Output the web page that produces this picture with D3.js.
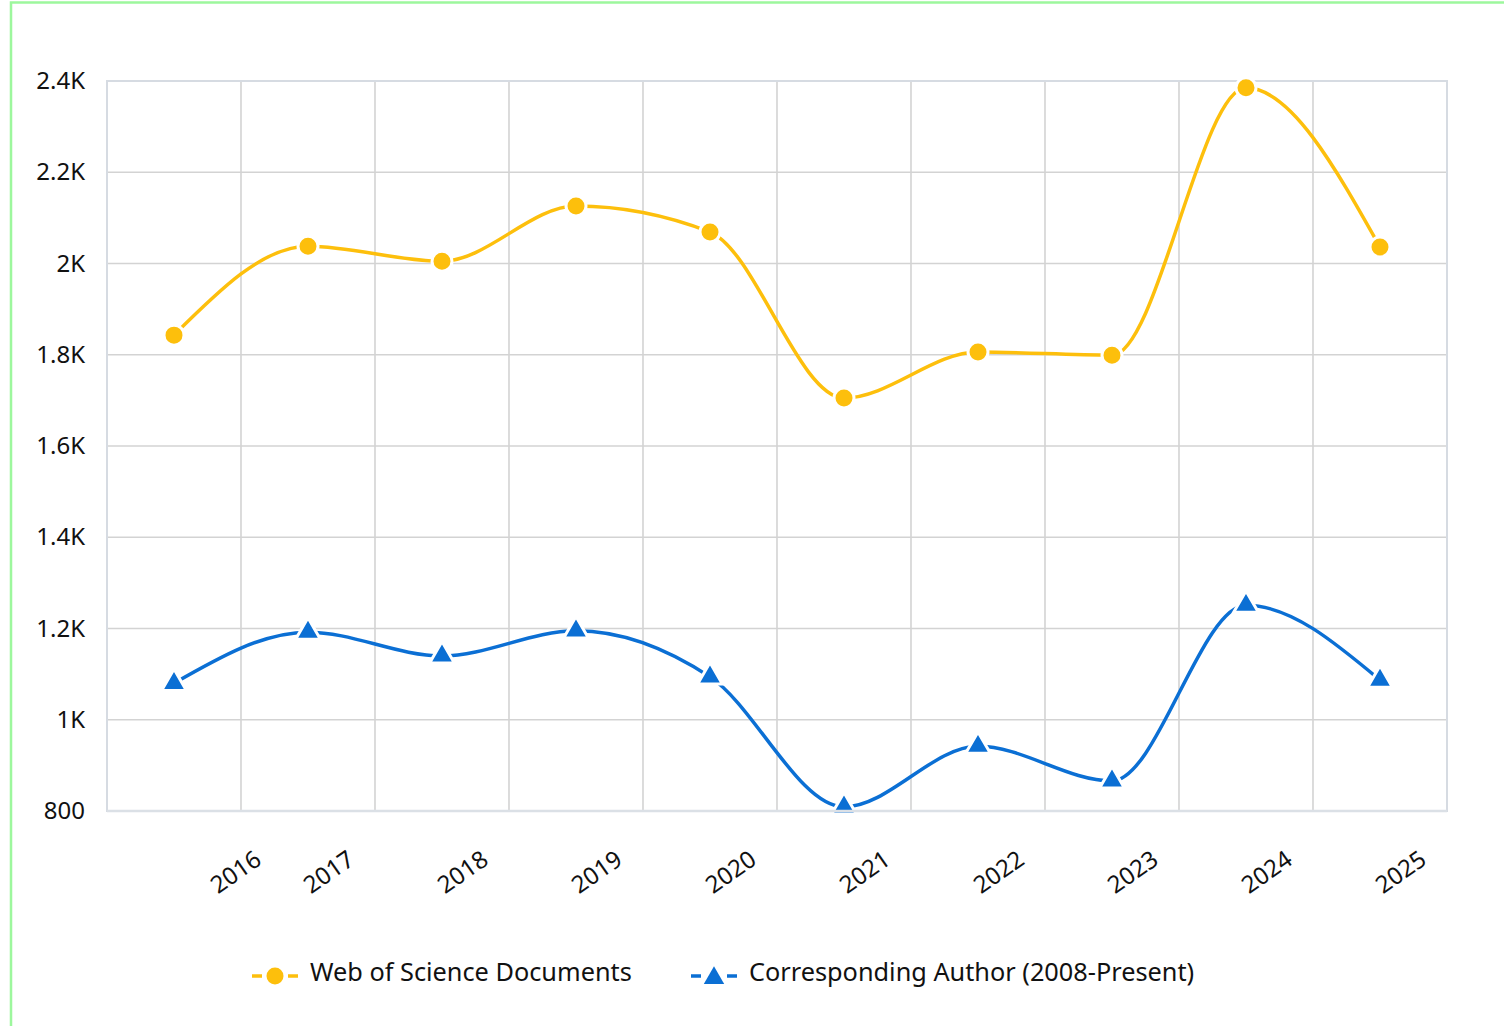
<!DOCTYPE html>
<html>
<head>
<meta charset="utf-8">
<script src="https://cdn.jsdelivr.net/npm/d3@7"></script>
<style>
  body { margin: 0; background: #fff; }
  svg { display: block; font-family: "Noto Sans", sans-serif; }
</style>
</head>
<body>
<div id="chart"></div>
<script>
// data
var years = ["2016", "2017", "2018", "2019", "2020", "2021", "2022", "2023", "2024", "2025"];
var wosDocs = [1843, 2038, 2005, 2126, 2069, 1705, 1806, 1799, 2385, 2036];
var corrAuthor = [1080, 1192, 1140, 1195, 1094, 809, 942, 866, 1251, 1087];
var yTicks = [800, 1000, 1200, 1400, 1600, 1800, 2000, 2200, 2400];
var seriesNames = ["Web of Science Documents", "Corresponding Author (2008-Present)"];

var yellow = "#fdbf0c";
var blue = "#0b6fd4";

var W = 1504, H = 1026;
var plotLeft = 107, plotRight = 1447, plotTop = 81, plotBottom = 811;

var svg = d3.select("#chart").append("svg")
  .attr("width", W)
  .attr("height", H);

// outer green frame
svg.append("rect")
  .attr("x", 11).attr("y", 2.5)
  .attr("width", 1600).attr("height", 1100)
  .attr("fill", "none")
  .attr("stroke", "#9df79d")
  .attr("stroke-width", 2.5);

var x = d3.scaleBand()
  .domain(years)
  .range([plotLeft, plotRight]);

var y = d3.scaleLinear()
  .domain([800, 2400])
  .range([plotBottom, plotTop]);

function fmt(v) {
  if (v < 1000) return String(v);
  var k = v / 1000;
  return (Math.round(k * 10) / 10) + "K";
}

// grid
var grid = svg.append("g").attr("stroke", "#d3d3d3").attr("stroke-width", 1.6);
var xEdges = years.map(function (d) { return x(d); });
xEdges.push(plotRight);
grid.selectAll(".vg").data(xEdges.slice(1, -1)).enter()
  .append("line")
  .attr("x1", function (d) { return d; })
  .attr("x2", function (d) { return d; })
  .attr("y1", plotTop).attr("y2", plotBottom);
grid.selectAll(".hg").data(yTicks.slice(1, -1)).enter()
  .append("line")
  .attr("x1", plotLeft).attr("x2", plotRight)
  .attr("y1", function (d) { return y(d); })
  .attr("y2", function (d) { return y(d); });

// plot frame
svg.append("rect")
  .attr("x", plotLeft).attr("y", plotTop)
  .attr("width", plotRight - plotLeft).attr("height", plotBottom - plotTop)
  .attr("fill", "none")
  .attr("stroke", "#d6dbe2")
  .attr("stroke-width", 2);

// y axis
var yaxis = svg.append("g")
  .attr("transform", "translate(" + (plotLeft - 22) + ",0)")
  .call(d3.axisLeft(y).tickValues(yTicks).tickFormat(fmt).tickSize(0).tickPadding(0));
yaxis.select(".domain").remove();
yaxis.selectAll("text")
  .attr("font-size", 24)
  .attr("font-family", "Noto Sans, sans-serif")
  .attr("fill", "#111");

// x axis
var xaxis = svg.append("g")
  .attr("transform", "translate(0," + plotBottom + ")")
  .call(d3.axisBottom(x).tickSize(0).tickPadding(0));
xaxis.select(".domain").remove();
xaxis.selectAll("text")
  .attr("font-size", 24)
  .attr("font-family", "Noto Sans, sans-serif")
  .attr("fill", "#111")
  .attr("y", 0)
  .attr("dy", 0)
  .style("text-anchor", "end")
  .attr("transform", function (d, i) {
    var dx = i == 0 ? 89 : 48;
    return "translate(" + dx + ",52) rotate(-35)";
  });

var line = d3.line()
  .x(function (d, i) { return x(years[i]) + x.bandwidth() / 2; })
  .y(function (d) { return y(d); })
  .curve(d3.curveMonotoneX);

svg.append("path")
  .datum(wosDocs)
  .attr("d", line)
  .attr("fill", "none")
  .attr("stroke", yellow)
  .attr("stroke-width", 3.5);

svg.append("path")
  .datum(corrAuthor)
  .attr("d", line)
  .attr("fill", "none")
  .attr("stroke", blue)
  .attr("stroke-width", 3.5);

var tri = d3.symbol().type(d3.symbolTriangle).size(265);

svg.selectAll(".dot")
  .data(wosDocs).enter()
  .append("circle")
  .attr("cx", function (d, i) { return x(years[i]) + x.bandwidth() / 2; })
  .attr("cy", function (d) { return y(d); })
  .attr("r", 10)
  .attr("fill", yellow)
  .attr("stroke", "#fff")
  .attr("stroke-width", 3);

svg.selectAll(".tri")
  .data(corrAuthor).enter()
  .append("path")
  .attr("d", tri)
  .attr("transform", function (d, i) {
    return "translate(" + (x(years[i]) + x.bandwidth() / 2) + "," + y(d) + ")";
  })
  .attr("fill", blue)
  .attr("stroke", "#fff")
  .attr("stroke-width", 3);

// bottom edge drawn over the markers
svg.append("line")
  .attr("x1", plotLeft).attr("x2", plotRight)
  .attr("y1", plotBottom).attr("y2", plotBottom)
  .attr("stroke", "#dbe0e6")
  .attr("stroke-width", 2.5);

// legend
var legY = 976;
var leg1 = svg.append("g").attr("transform", "translate(275," + legY + ")");
leg1.append("line").attr("x1", -23).attr("x2", -13).attr("stroke", yellow).attr("stroke-width", 3.5);
leg1.append("line").attr("x1", 13).attr("x2", 23).attr("stroke", yellow).attr("stroke-width", 3.5);
leg1.append("circle").attr("r", 8.5).attr("fill", yellow);
leg1.append("text")
  .attr("x", 35).attr("y", 5)
  .attr("font-size", 25.3)
  .attr("fill", "#111")
  .text(seriesNames[0]);

var leg2 = svg.append("g").attr("transform", "translate(714," + legY + ")");
leg2.append("line").attr("x1", -23).attr("x2", -13).attr("stroke", blue).attr("stroke-width", 3.5);
leg2.append("line").attr("x1", 13).attr("x2", 23).attr("stroke", blue).attr("stroke-width", 3.5);
leg2.append("path").attr("d", d3.symbol().type(d3.symbolTriangle).size(180)).attr("transform", "translate(0,2)").attr("fill", blue);
leg2.append("text")
  .attr("x", 35).attr("y", 5)
  .attr("font-size", 25.3)
  .attr("fill", "#111")
  .text(seriesNames[1]);
</script>
</body>
</html>
